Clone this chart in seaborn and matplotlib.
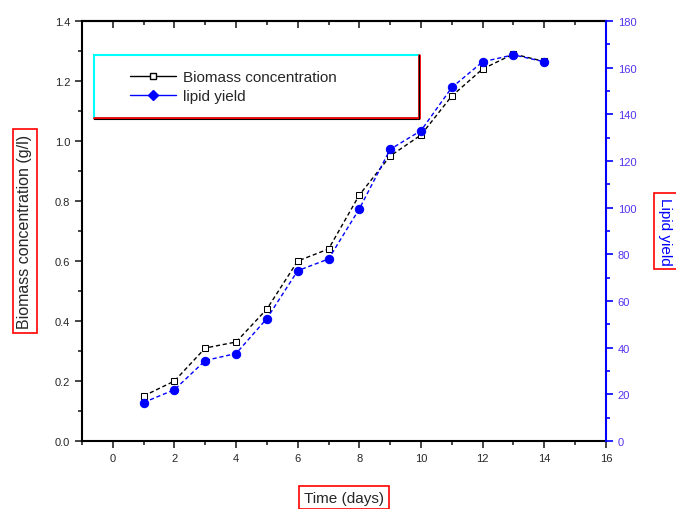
import numpy as np
import pandas as pd
import matplotlib
matplotlib.use("Agg")
import matplotlib.pyplot as plt
import seaborn as sns
from matplotlib.patches import Rectangle
from matplotlib.lines import Line2D
from matplotlib.ticker import MultipleLocator, FormatStrFormatter

# data
days = [1, 2, 3, 4, 5, 6, 7, 8, 9, 10, 11, 12, 13, 14]
biomass = [0.15, 0.20, 0.31, 0.33, 0.44, 0.60, 0.64, 0.82, 0.95, 1.02, 1.15, 1.24, 1.29, 1.265]
lipid = [16.5, 22, 34.5, 37.5, 52.5, 73, 78, 99.5, 125, 133, 151.5, 162.5, 165.5, 162.5]

df = pd.DataFrame({"day": days, "biomass": biomass, "lipid": lipid})

sns.set_style("ticks")
plt.rcParams["font.family"] = ["Liberation Sans", "DejaVu Sans"]

fig = plt.figure(figsize=(6.76, 5.10), dpi=100)
ax = fig.add_axes([0.1213, 0.1333, 0.775, 0.8236])
ax2 = ax.twinx()

sns.lineplot(data=df, x="day", y="biomass", ax=ax, color="black", lw=1,
             linestyle=(0, (3, 2)), marker="s", markersize=5,
             markeredgecolor="black", markerfacecolor="white", zorder=3)
sns.lineplot(data=df, x="day", y="lipid", ax=ax2, color="blue", lw=1,
             linestyle=(0, (3, 2)), marker="o", markersize=6,
             markeredgecolor="blue", markerfacecolor="blue")

ax.set_xlim(-1, 16)
ax.set_ylim(0, 1.4)
ax2.set_ylim(0, 180)

ax.xaxis.set_major_locator(MultipleLocator(2))
ax.xaxis.set_minor_locator(MultipleLocator(1))
ax.yaxis.set_major_locator(MultipleLocator(0.2))
ax.yaxis.set_minor_locator(MultipleLocator(0.1))
ax2.yaxis.set_major_locator(MultipleLocator(20))
ax2.yaxis.set_minor_locator(MultipleLocator(10))

ax.tick_params(axis="both", which="major", length=5, width=1.2, labelsize=8, direction="out")
ax.tick_params(axis="both", which="minor", length=3, width=1.2, direction="out")
ax.yaxis.set_major_formatter(FormatStrFormatter("%.1f"))

# top ticks point inward
top = ax.secondary_xaxis("top")
top.xaxis.set_major_locator(MultipleLocator(2))
top.xaxis.set_minor_locator(MultipleLocator(1))
top.tick_params(which="major", direction="in", length=5, width=1.2, labeltop=False)
top.tick_params(which="minor", direction="in", length=3, width=1.2)
top.spines["top"].set_linewidth(1.5)

ax2.tick_params(axis="y", which="major", length=5, width=1.2, labelsize=8,
                colors="blue", labelcolor="#5533ee")
ax2.tick_params(axis="y", which="minor", length=3, width=1.2, colors="blue")

for s in ["left", "bottom", "top"]:
    ax.spines[s].set_linewidth(1.5)
    ax.spines[s].set_color("black")
ax2.spines["right"].set_color("blue")
ax2.spines["right"].set_linewidth(1.5)
ax2.spines["left"].set_visible(False)
ax2.spines["top"].set_visible(False)
ax2.spines["bottom"].set_visible(False)
ax.spines["right"].set_visible(False)

box = dict(boxstyle="square,pad=0.3", facecolor="white", edgecolor="red", lw=1.2)
ax.set_xlabel("Time (days)", fontsize=11, bbox=box, labelpad=20)
ax.set_ylabel("Biomass concentration (g/l)", fontsize=11.5, bbox=box, labelpad=16)
ax2.set_ylabel("Lipid yield", fontsize=11, color="blue", rotation=-90, bbox=box, labelpad=26)

# legend box: cyan top/left, red bottom/right
lx0, ly0, lx1, ly1 = 0.023, 0.77, 0.643, 0.918
ax.add_patch(Rectangle((lx0, ly0), lx1 - lx0, ly1 - ly0, transform=ax.transAxes,
                       facecolor="white", edgecolor="cyan", lw=1.5, zorder=5))
ax.plot([lx0, lx1, lx1], [ly0, ly0, ly1], transform=ax.transAxes, color="red", lw=2, zorder=6)
ax.plot([lx0, lx1, lx1], [ly0 - 0.004, ly0 - 0.004, ly1], transform=ax.transAxes, color="black", lw=0.8, zorder=6)
handles = [
    Line2D([], [], color="black", lw=1, marker="s", markersize=5, markerfacecolor="white"),
    Line2D([], [], color="blue", lw=1, marker="D", markersize=5, markerfacecolor="blue"),
]
leg = ax.legend(handles, ["Biomass concentration", "lipid yield"], loc="upper left",
                bbox_to_anchor=(0.065, 0.915), frameon=False, fontsize=11,
                handlelength=3, labelspacing=0.3, handletextpad=0.5)
leg.set_zorder(7)

fig.savefig("out.png", dpi=100)
